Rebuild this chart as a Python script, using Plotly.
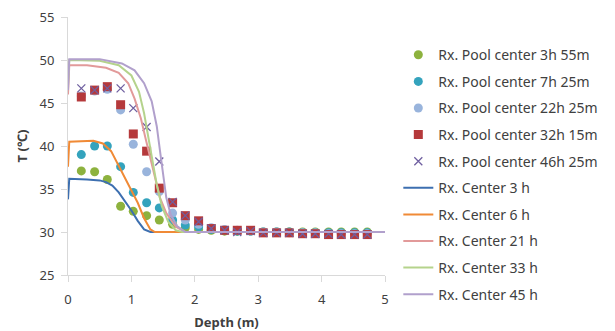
import plotly.graph_objects as go

# ---- data ----
depth_pts = [0.21, 0.42, 0.62, 0.83, 1.03, 1.24, 1.44, 1.65, 1.85, 2.06, 2.26, 2.47,
             2.67, 2.88, 3.08, 3.29, 3.49, 3.70, 3.90, 4.11, 4.31, 4.52, 4.72]

pool_3h55 = [37.1, 37.0, 36.1, 33.0, 32.4, 31.9, 31.4, 30.9, 30.5, 30.3, 30.2, 30.1,
             30.1, 30.1, 30.0, 30.0, 30.0, 30.0, 30.0, 30.0, 30.0, 30.0, 30.0]
pool_7h25 = [39.0, 40.0, 40.0, 37.6, 34.6, 33.4, 32.8, 31.4, 30.8, 30.6, 30.3, 30.2,
             30.1, 30.1, 30.0, 30.0, 30.0, 29.9, 29.9, 29.9, 29.9, 29.9, 29.9]
pool_22h25 = [45.8, 46.4, 46.6, 44.2, 40.2, 37.0, 34.7, 32.2, 31.4, 30.9, 30.5, 30.3,
              30.2, 30.1, 30.0, 30.0, 29.9, 29.9, 29.9, 29.8, 29.8, 29.8, 29.8]
pool_32h15 = [45.7, 46.5, 46.9, 44.8, 41.4, 39.4, 35.1, 33.4, 31.9, 31.3, 30.4, 30.2,
              30.2, 30.2, 29.9, 29.9, 29.9, 29.8, 29.8, 29.7, 29.7, 29.7, 29.7]
pool_46h25 = [46.7, 46.5, 46.7, 46.7, 44.4, 42.2, 38.2, 33.5, 31.9, 31.2, 30.4, 30.2,
              30.0, 30.1, 29.9, 29.9, 29.9, 29.8, 29.8, 29.8, 29.7, 29.7, 29.7]

c3_x = [0.0, 0.02, 0.3, 0.5, 0.6, 0.7, 0.8, 0.9, 1.0, 1.1, 1.2, 1.3, 5.0]
c3_y = [33.8, 36.2, 36.1, 36.0, 35.8, 35.4, 34.6, 33.6, 32.5, 31.3, 30.3, 30.0, 30.0]

c6_x = [0.0, 0.02, 0.4, 0.55, 0.68, 0.75, 0.83, 0.93, 1.0, 1.1, 1.2, 1.3, 1.37, 5.0]
c6_y = [37.6, 40.5, 40.6, 40.3, 39.4, 38.4, 37.4, 36.0, 35.0, 33.4, 31.6, 30.3, 30.0, 30.0]

c21_x = [0.0, 0.02, 0.3, 0.6, 0.8, 0.95, 1.05, 1.15, 1.22, 1.3, 1.38, 1.45, 1.55, 1.7, 1.85, 5.0]
c21_y = [46.0, 49.4, 49.4, 49.1, 48.5, 47.3, 45.5, 43.2, 41.0, 38.6, 36.0, 34.0, 32.2, 30.6, 30.0, 30.0]

c33_x = [0.0, 0.02, 0.5, 0.8, 1.0, 1.12, 1.2, 1.27, 1.33, 1.4, 1.48, 1.58, 1.7, 1.8, 5.0]
c33_y = [47.0, 50.0, 49.9, 49.4, 48.2, 46.3, 43.8, 41.0, 38.5, 35.5, 33.0, 31.2, 30.2, 30.0, 30.0]

c45_x = [0.0, 0.02, 0.5, 0.85, 1.05, 1.2, 1.32, 1.4, 1.45, 1.5, 1.55, 1.62, 1.72, 1.85, 5.0]
c45_y = [46.5, 50.1, 50.1, 49.6, 48.8, 47.3, 45.2, 42.3, 39.5, 36.5, 34.0, 32.0, 30.7, 30.0, 30.0]

x_ticks = [0, 1, 2, 3, 4, 5]
y_ticks = [25, 30, 35, 40, 45, 50, 55]

FONT = "Noto Sans"
TXT = "#404040"

fig = go.Figure()

markers = [
    ("Rx. Pool center 3h 55m", pool_3h55, "circle", "#8db23e", 9),
    ("Rx. Pool center 7h 25m", pool_7h25, "circle", "#34a3bd", 9),
    ("Rx. Pool center 22h 25m", pool_22h25, "circle", "#99b4dc", 9),
    ("Rx. Pool center 32h 15m", pool_32h15, "square", "#b5393b", 9),
    ("Rx. Pool center 46h 25m", pool_46h25, "x-thin", "#6f5fa0", 8),
]
for i, (name, ys, sym, col, sz) in enumerate(markers):
    mk = dict(symbol=sym, color=col, size=sz)
    if sym == "x-thin":
        mk["line"] = dict(color=col, width=1.3)
    fig.add_trace(go.Scatter(x=depth_pts, y=ys, mode="markers", name=name,
                             marker=mk, legendgroup=f"g{i}"))

lines = [
    ("Rx. Center 3 h", c3_x, c3_y, "#3d6fb0"),
    ("Rx. Center 6 h", c6_x, c6_y, "#f08a36"),
    ("Rx. Center 21 h", c21_x, c21_y, "#e29a9a"),
    ("Rx. Center 33 h", c33_x, c33_y, "#b5d38c"),
    ("Rx. Center 45 h", c45_x, c45_y, "#b1a0cc"),
]
for i, (name, xs, ys, col) in enumerate(lines):
    fig.add_trace(go.Scatter(x=xs, y=ys, mode="lines", name=name,
                             line=dict(color=col, width=2), legendgroup=f"l{i}"))

axis_common = dict(showgrid=False, zeroline=False, showline=True, linecolor="#d9d9d9",
                   linewidth=1, ticks="outside", tickcolor="#d9d9d9", ticklen=6,
                   automargin=False,
                   tickfont=dict(family=FONT, size=13, color=TXT))

fig.update_layout(
    width=615, height=331,
    margin=dict(l=68, r=223, t=17, b=56),
    paper_bgcolor="white", plot_bgcolor="white",
    font=dict(family=FONT, size=13, color=TXT),
    xaxis=dict(range=[0, 5], tickvals=x_ticks, ticklabelstandoff=6, **axis_common,
               title=dict(text="<b>Depth (m)</b>", font=dict(size=13, color=TXT), standoff=13)),
    yaxis=dict(range=[25, 55], tickvals=y_ticks, ticklabelstandoff=4, **axis_common,
               title=dict(text="<b>T (℃)</b>", font=dict(size=13, color=TXT), standoff=8)),
    legend=dict(x=1.042, y=0.914, xanchor="left", yanchor="top",
                font=dict(family=FONT, size=14, color=TXT), maxheight=331,
                tracegroupgap=5.4, bgcolor="rgba(0,0,0,0)"),
    showlegend=True,
)

fig.write_html("out.html", config={"displayModeBar": False},
               post_script="document.body.style.margin='0';document.body.style.overflow='hidden';")
